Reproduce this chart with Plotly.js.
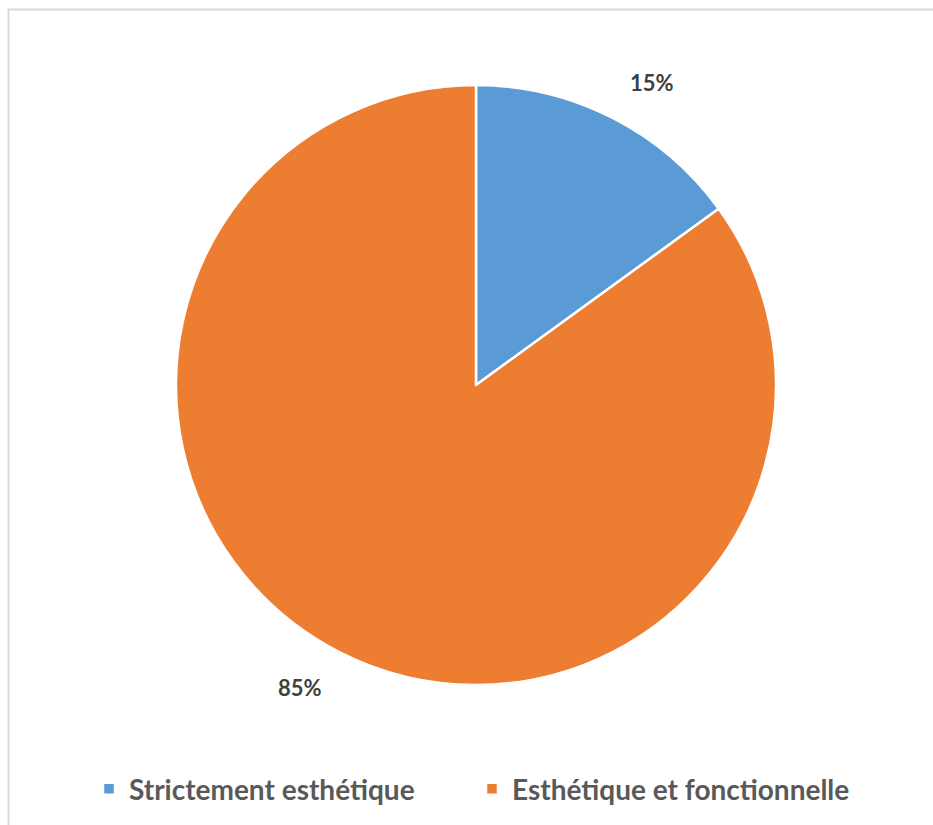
<!DOCTYPE html>
<html>
<head>
<meta charset="utf-8">
<script src="https://cdn.plot.ly/plotly-3.0.1.min.js"></script>
<style>html,body{margin:0;padding:0;background:#fff;}#chart{width:933px;height:825px;}</style>
</head>
<body>
<div id="chart"></div>
<script>
const categories = ["Strictement esthétique", "Esthétique et fonctionnelle"];
const values = [15, 85];
const colors = ["#5B9BD5", "#ED7D31"];

const W = 933, H = 825;
const cx = 476, cy = 385, R = 300;
const labelDist = 350;
const labelAngleShift = 3.2; // degrees

// label annotations computed from the data values
const total = values.reduce((a, b) => a + b, 0);
let cum = 0;
const annotations = values.map(v => {
  const mid = (cum + v / 2) / total * 2 * Math.PI + labelAngleShift * Math.PI / 180;
  cum += v;
  const px = cx + labelDist * Math.sin(mid);
  const py = cy - labelDist * Math.cos(mid);
  return {
    xref: 'paper', yref: 'paper',
    x: px / W, y: 1 - py / H,
    text: Math.round(v / total * 100) + '%',
    showarrow: false,
    font: {family: 'Lato, sans-serif', size: 22, color: '#404040', weight: 'bold'},
    xanchor: 'center', yanchor: 'middle'
  };
});

const data = [{
  type: 'pie',
  labels: categories,
  values: values,
  marker: {colors: colors, line: {color: '#ffffff', width: 2.5}},
  sort: false,
  direction: 'clockwise',
  rotation: 0,
  textinfo: 'none',
  hoverinfo: 'label+percent',
  domain: {x: [(cx - R) / W, (cx + R) / W], y: [1 - (cy + R) / H, 1 - (cy - R) / H]}
}];

const layout = {
  width: W, height: H,
  margin: {l: 0, r: 0, t: 0, b: 0},
  paper_bgcolor: '#ffffff',
  showlegend: true,
  legend: {
    orientation: 'h',
    x: 89 / W, xanchor: 'left',
    y: 1 - 789 / H, yanchor: 'middle',
    font: {family: 'Lato, sans-serif', size: 28, color: '#595959', weight: 'bold'},
    itemwidth: 30,
    entrywidth: 338,
    traceorder: 'normal'
  },
  annotations: annotations,
  shapes: [{
    type: 'rect', xref: 'paper', yref: 'paper',
    x0: 8.5 / W, x1: 1.05, y0: -0.05, y1: 1 - 9.5 / H,
    line: {color: '#d9d9d9', width: 2}, fillcolor: 'rgba(0,0,0,0)'
  }]
};

Plotly.newPlot('chart', data, layout, {displayModeBar: false});
</script>
</body>
</html>
